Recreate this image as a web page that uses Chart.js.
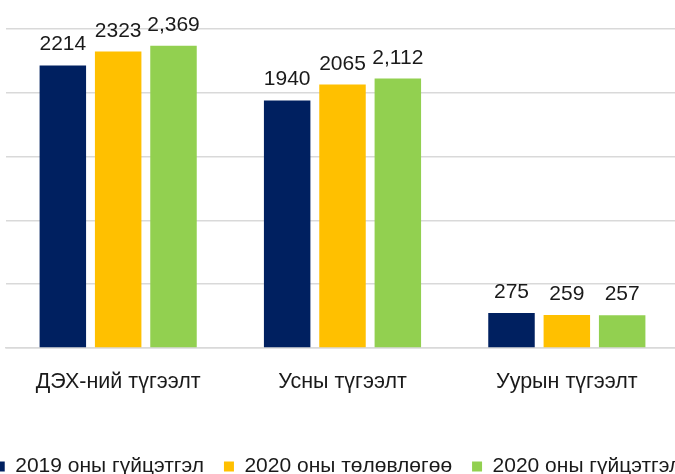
<!DOCTYPE html>
<html>
<head>
<meta charset="utf-8">
<script src="https://cdn.jsdelivr.net/npm/chart.js@4.4.1/dist/chart.umd.min.js"></script>
<style>
  html, body { margin:0; padding:0; background:#fff; overflow:hidden; }
  #wrap { position:absolute; left:-42px; top:0; width:760px; height:474px; }
</style>
</head>
<body>
<div id="wrap"><canvas id="c"></canvas></div>
<script>
// categories + series
const categories = ["ДЭХ-ний түгээлт", "Усны түгээлт", "Уурын түгээлт"];
const seriesNames = ["2019 оны гүйцэтгэл", "2020 оны төлөвлөгөө", "2020 оны гүйцэтгэл"];
const actual2019 = [2214, 1940, 275];
const plan2020 = [2323, 2065, 259];
const actual2020 = [2369, 2112, 257];
const seriesColors = ["#002060", "#FFC000", "#92D050"];
// the last series shows thousands separators in the source
const useComma = [false, false, true];

const FONT = "'Liberation Sans', Arial, sans-serif";

// simple value labels above each bar
const barLabels = {
  id: "barLabels",
  afterDatasetsDraw(chart){
    const ctx = chart.ctx;
    ctx.save();
    ctx.font = "21px " + FONT;
    ctx.fillStyle = "#1a1a1a";
    ctx.textAlign = "center";
    ctx.textBaseline = "alphabetic";
    chart.data.datasets.forEach((ds, i) => {
      const meta = chart.getDatasetMeta(i);
      meta.data.forEach((bar, j) => {
        const v = ds.data[j];
        const txt = useComma[i] ? v.toLocaleString("en-US") : String(v);
        ctx.fillText(txt, bar.x, bar.y - 15);
      });
    });
    ctx.restore();
  }
};

const seriesData = [actual2019, plan2020, actual2020];

new Chart(document.getElementById("c"), {
  type: "bar",
  data: {
    labels: categories,
    datasets: seriesNames.map((name, i) => ({
      label: name,
      data: seriesData[i],
      backgroundColor: seriesColors[i],
      categoryPercentage: 0.74,
      barPercentage: 0.84
    }))
  },
  options: {
    responsive: true,
    maintainAspectRatio: false,
    animation: false,
    layout: { padding: { left: 0, right: 0, top: 29, bottom: -13 } },
    scales: {
      x: {
        grid: { display: false },
        border: { color: "#d9d9d9", width: 1.5 },
        ticks: { color: "#1a1a1a", font: { family: FONT, size: 21.5 }, padding: 13 },
        afterFit(axis){ axis.height = 88; }
      },
      y: {
        min: 0, max: 2500,
        ticks: { display: false, stepSize: 500 },
        grid: { color: "#d9d9d9", lineWidth: 1.5, drawTicks: false },
        border: { display: false },
        afterFit(axis){ axis.width = 48; }
      },
      yRight: {
        position: "right",
        grid: { display: false },
        border: { display: false },
        ticks: { display: false },
        afterFit(axis){ axis.width = 39; }
      }
    },
    plugins: {
      legend: {
        position: "bottom",
        labels: {
          color: "#1a1a1a",
          font: { family: FONT, size: 21 },
          boxWidth: 10, boxHeight: 10,
          padding: 20
        }
      },
      tooltip: { enabled: false }
    }
  },
  plugins: [barLabels]
});
</script>
</body>
</html>
